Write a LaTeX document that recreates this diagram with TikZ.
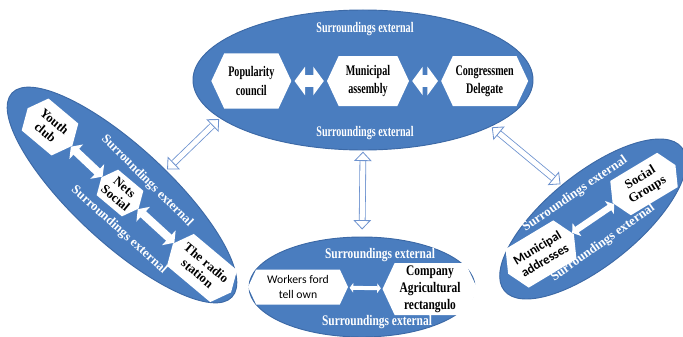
\documentclass[tikz,border=0pt]{standalone}
\usepackage{fontspec}
\setmainfont{Liberation Serif}
\newfontfamily\narrowrm{Liberation Serif}[FakeStretch=0.69]
\newfontfamily\widerm{Liberation Serif}[FakeStretch=0.78]
\newfontfamily\calsans{Carlito}
\usetikzlibrary{positioning,shapes.geometric,shapes.symbols,arrows.meta}
\definecolor{zoneblue}{HTML}{4A7DBF}
\definecolor{zoneline}{HTML}{3C69A6}
\definecolor{linkblue}{HTML}{6E93CF}

\begin{document}
\begin{tikzpicture}[x=0.03cm,y=-0.03cm,node distance=3.5cm,on grid,
    zone/.style={ellipse,fill=zoneblue,draw=zoneline,line width=0.8pt,inner sep=0pt},
    member/.style={signal,signal to=west and east,signal pointer angle=130,fill=white,inner sep=1pt,align=center},
    narrow/.style={font=\narrowrm\bfseries\fontsize{12.5}{15.4}\selectfont},
    wide/.style={font=\widerm\bfseries\fontsize{12.5}{14.5}\selectfont},
    plain/.style={font=\bfseries\fontsize{11}{12}\selectfont},
    sans/.style n args={2}{font=\calsans\fontsize{#1}{#2}\selectfont},
    envtext/.style={text=white},
    pairarrow/.style={white,line width=#1,{Triangle[length=0pt 0.9,width=0pt 2.4]}-{Triangle[length=0pt 0.9,width=0pt 2.4]}},
    linkarrow/.style={draw=linkblue,double=white,double distance=4.3pt,line width=0.7pt,shorten <=1pt,shorten >=1pt,
      {Triangle[open,fill=white,length=8pt,width=15pt,line width=0.7pt]}-{Triangle[open,fill=white,length=8pt,width=15pt,line width=0.7pt]}}]
    \useasboundingbox (0,0) rectangle (683,336);

    \node[zone,minimum width=10.2cm,minimum height=4.2cm]            (z_top)   at (363,80)  {};
    \node[zone,rotate=-42.8,minimum width=9cm,minimum height=2.88cm]  (z_left)  at (122,195) {};
    \node[zone,rotate=38.9,minimum width=6.84cm,minimum height=2.75cm] (z_right) at (593,219) {};
    \node[zone,minimum width=6.78cm,minimum height=3cm]              (z_bot)   at (362,287) {};

    \node[envtext,narrow] (s_top1) at (365,29)  {Surroundings external};
    \node[envtext,narrow] (s_top2) at (365,133) {Surroundings external};
    \node[member,narrow,minimum width=2.46cm,minimum height=1.5cm] (m_muni) at (368,81) {Municipal\\assembly};
    \node[member,narrow,minimum width=2.4cm,minimum height=1.65cm] (m_pop)  [left=of m_muni]  {Popularity\\council};
    \node[member,narrow,minimum width=2.61cm,minimum height=1.5cm]  (m_cong) [right=of m_muni] {Congressmen\\Delegate};

    \node[envtext,plain,rotate=-45] (s_left1) at (147,181) {Surroundings external};
    \node[envtext,plain,rotate=-42] (s_left2) at (119,230) {Surroundings external};
    \node[member,plain,rotate=-40,minimum width=1.75cm,minimum height=1.25cm] (m_youth) at (50,127)  {Youth\\club};
    \node[member,plain,rotate=-40,inner sep=0pt,minimum width=1.45cm,minimum height=1cm] (m_nets) at (120,193) {Nets\\Social};
    \node[member,plain,rotate=-40,minimum width=1.95cm,minimum height=1.25cm] (m_radio) at (202,268) {The radio\\station};

    \node[envtext,plain,rotate=34.5] (s_right1) at (575,194) {Surroundings external};
    \node[envtext,plain,rotate=35.5] (s_right2) at (603,243) {Surroundings external};
    \node[member,plain,rotate=31,inner sep=0pt,minimum width=2.2cm,minimum height=1.2cm] (m_soc) at (644,184) {Social\\Groups};
    \node[member,sans={11}{12.5},rotate=31,minimum width=2.3cm,minimum height=1.35cm] (m_addr) at (541,254) {\bfseries Municipal\\\bfseries addresses};

    \node[envtext,wide] (s_bot1) at (380,255) {Surroundings external};
    \node[envtext,wide] (s_bot2) at (377,322) {Surroundings external};
    \node[member,sans={10}{12.5},minimum width=3cm,minimum height=1.05cm] (m_work) at (298,287) {Workers ford\\tell own};
    \node[member,wide,minimum width=2.85cm,minimum height=1.56cm]    (m_comp) at (430,289) {Company\\Agricultural\\rectangulo};

    \path[pairarrow=10pt,shorten <=2.5pt,shorten >=2.5pt] (m_pop) edge (m_muni) (m_muni) edge (m_cong);
    \path[pairarrow=7pt] (m_youth) edge (m_nets) (m_nets) edge (m_radio);
    \path[pairarrow=5.5pt] (m_addr) edge (m_soc);
    \path[pairarrow=3.4pt,shorten <=1.5pt,shorten >=1.5pt] (m_work) edge (m_comp);

    \path (z_top.195) edge[linkarrow] (z_left.72)
        (z_top.south) edge[linkarrow,shorten >=6pt] (z_bot.north)
        (z_top.340) edge[linkarrow] (z_right.94);
\end{tikzpicture}
\end{document}
